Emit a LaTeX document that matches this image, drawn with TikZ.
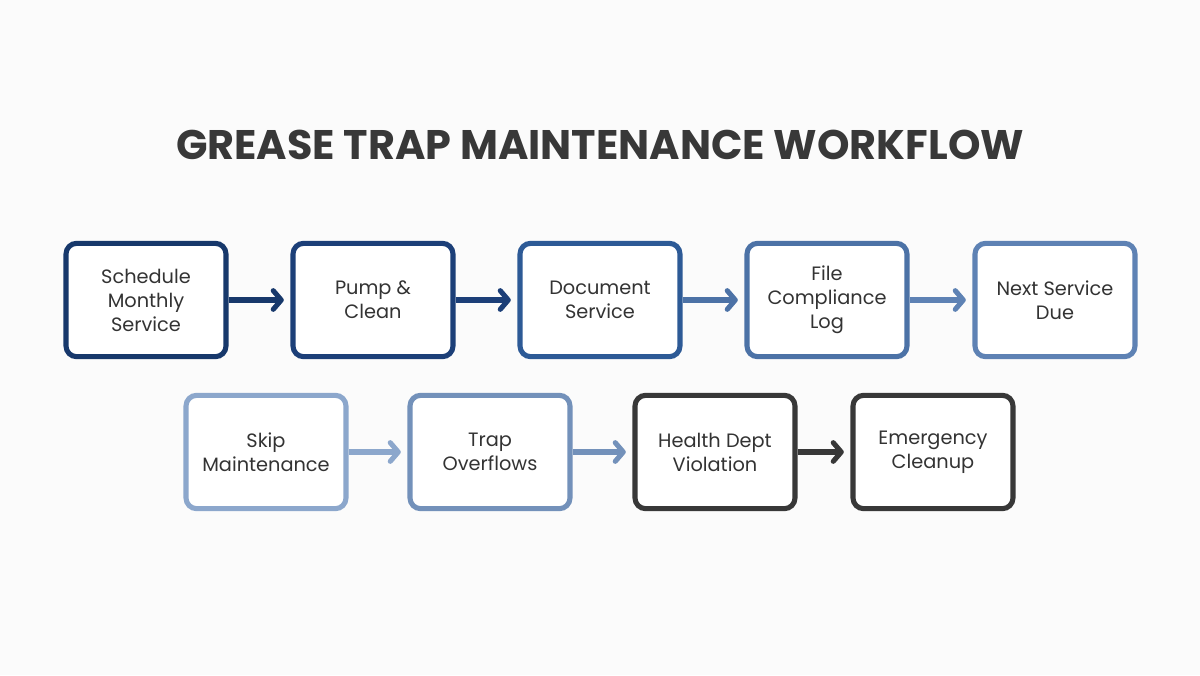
\documentclass[tikz,border=0pt]{standalone}
\usepackage{fontspec}
\setmainfont{Poppins}
\usetikzlibrary{arrows.meta}
\begin{document}
\begin{tikzpicture}[x=0.75pt,y=-0.75pt,
 box/.style={draw=#1,line width=3.8pt,rounded corners=8pt,minimum width=120pt,minimum height=85pt,align=center,font=\fontsize{14.5}{18}\selectfont,text=black!80,fill=white},
 arr/.style={draw=#1,line width=3.8pt,-{Straight Barb[length=6pt,width=14pt,line cap=round,line join=round]}}]
\fill[white!97!gray] (0,0) rectangle (1200,675);
\node[font=\bfseries\fontsize{31}{36}\selectfont,text=black!78] (t) at (600,145) {GREASE TRAP MAINTENANCE WORKFLOW};
\definecolor{c1}{HTML}{17386B}\definecolor{c2}{HTML}{1C3F78}\definecolor{c3}{HTML}{2D5A96}
\definecolor{c4}{HTML}{4C72A6}\definecolor{c5}{HTML}{5E82B4}\definecolor{d1}{HTML}{8CA7CC}
\definecolor{d2}{HTML}{7391BA}\definecolor{g}{HTML}{383838}
\node[box=c1] (a) at (146,300) {Schedule\\Monthly\\Service};
\node[box=c2] (b) at (373,300) {Pump \&\\Clean};
\node[box=c3] (c) at (600,300) {Document\\Service};
\node[box=c4] (d) at (827,300) {File\\Compliance\\Log};
\node[box=c5] (e) at (1055,300) {Next Service\\Due};
\node[box=d1] (f) at (266,452) {Skip\\Maintenance};
\node[box=d2] (h) at (490,452) {Trap\\Overflows};
\node[box=g] (i) at (715,452) {Health Dept\\Violation};
\node[box=g] (j) at (933,452) {Emergency\\Cleanup};
\draw[arr=c1] (a) -- ([xshift=-5]b.west);
\draw[arr=c2] (b) -- ([xshift=-5]c.west);
\draw[arr=c4] (c) -- ([xshift=-5]d.west);
\draw[arr=c5] (d) -- ([xshift=-5]e.west);
\draw[arr=d1] (f) -- ([xshift=-5]h.west);
\draw[arr=d2] (h) -- ([xshift=-5]i.west);
\draw[arr=g] (i) -- ([xshift=-5]j.west);
\end{tikzpicture}
\end{document}
